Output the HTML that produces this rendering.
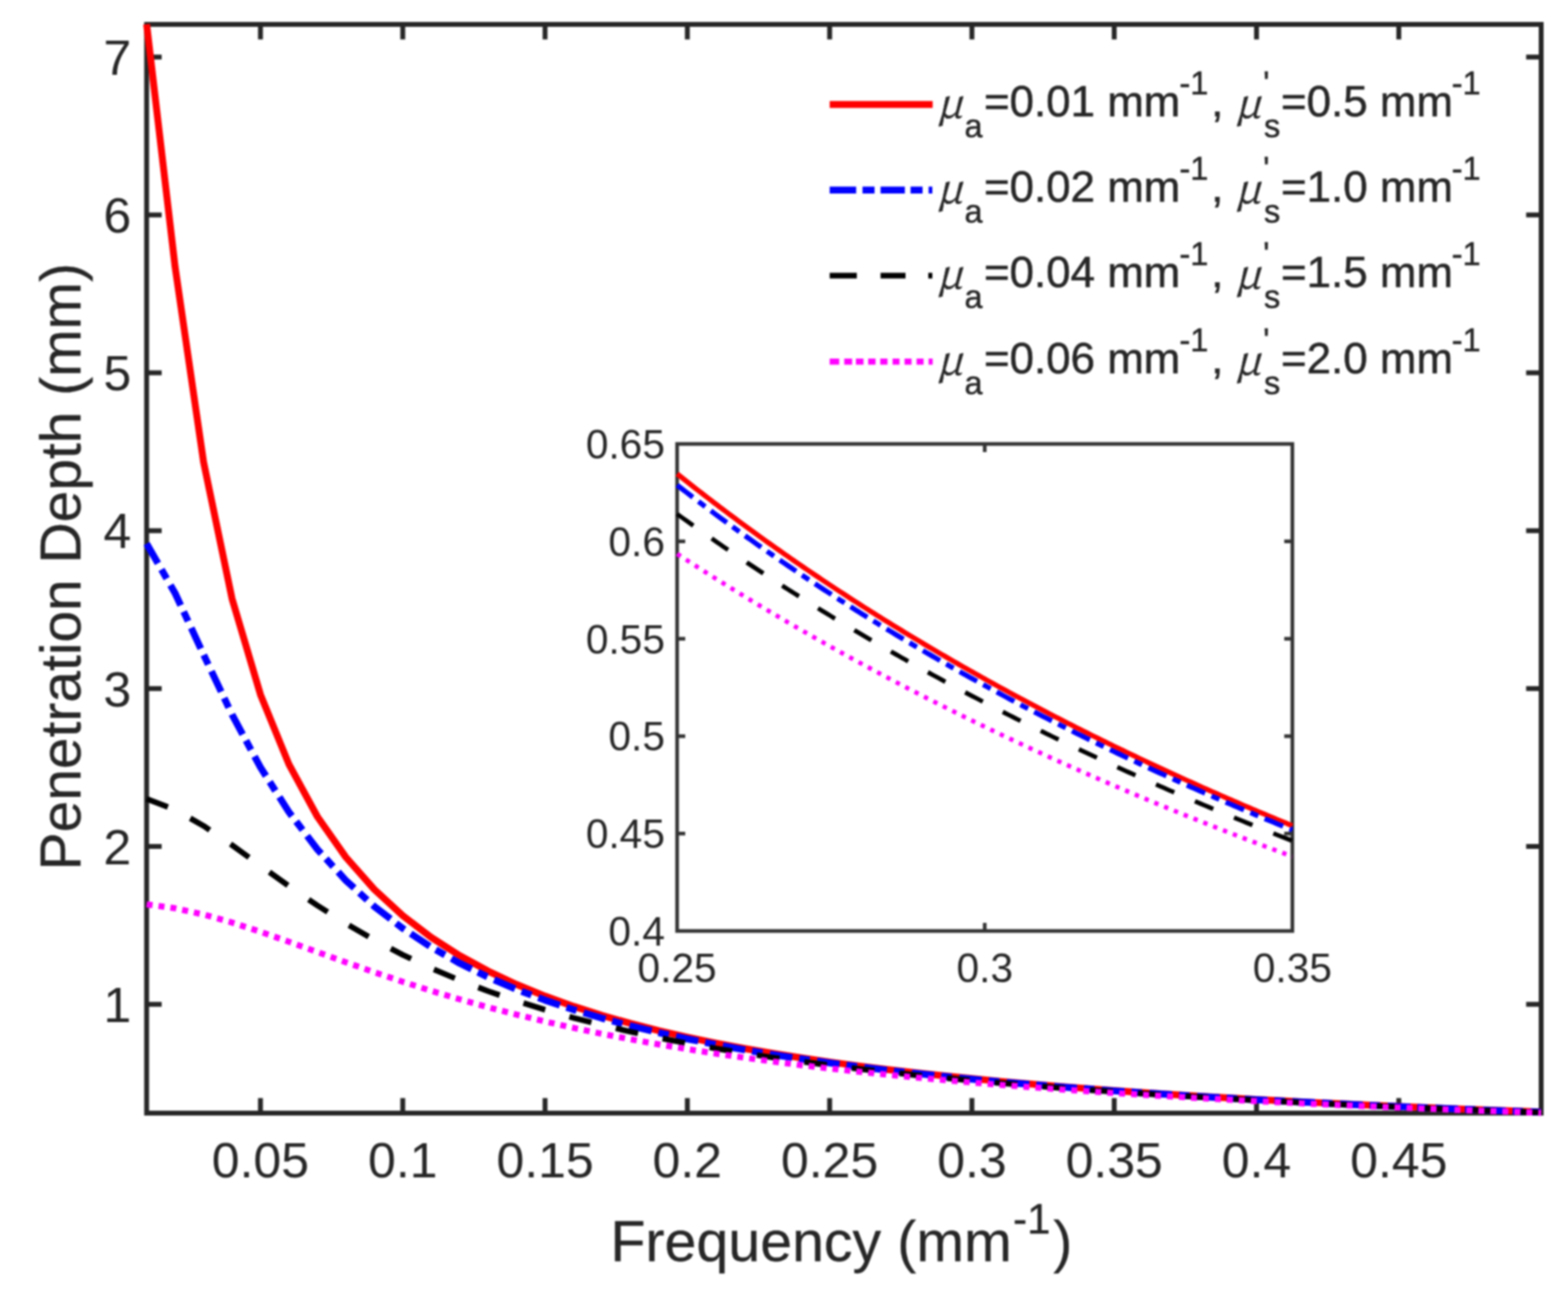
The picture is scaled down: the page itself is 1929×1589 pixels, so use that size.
<!DOCTYPE html>
<html><head><meta charset="utf-8"><title>Penetration Depth vs Frequency</title>
<style>
html,body{margin:0;padding:0;background:#fff;}
body{width:1929px;height:1589px;overflow:hidden;}
svg{display:block;filter:blur(1.1px);}
text{font-family:"Liberation Sans",Arial,sans-serif;fill:#262626;stroke:#262626;stroke-width:0.6px;}
.tk text{stroke-width:0.0px;}
.lab{stroke-width:0.3px;}
.mu{font-family:"Noto Serif CJK SC","Liberation Serif",serif;font-style:italic;}
</style></head><body>
<svg width="1929" height="1589" viewBox="0 0 1929 1589">
<rect x="0" y="0" width="1929" height="1589" fill="#fff"/>

<g stroke="#262626" stroke-width="6" fill="none" stroke-linecap="square">
<rect x="180.4" y="30.0" width="1715.60" height="1339.00"/>
<line x1="320.44" y1="1369.0" x2="320.44" y2="1350.5" stroke-linecap="butt"/>
<line x1="320.44" y1="30.0" x2="320.44" y2="48.5" stroke-linecap="butt"/>
<line x1="495.49" y1="1369.0" x2="495.49" y2="1350.5" stroke-linecap="butt"/>
<line x1="495.49" y1="30.0" x2="495.49" y2="48.5" stroke-linecap="butt"/>
<line x1="670.54" y1="1369.0" x2="670.54" y2="1350.5" stroke-linecap="butt"/>
<line x1="670.54" y1="30.0" x2="670.54" y2="48.5" stroke-linecap="butt"/>
<line x1="845.59" y1="1369.0" x2="845.59" y2="1350.5" stroke-linecap="butt"/>
<line x1="845.59" y1="30.0" x2="845.59" y2="48.5" stroke-linecap="butt"/>
<line x1="1020.64" y1="1369.0" x2="1020.64" y2="1350.5" stroke-linecap="butt"/>
<line x1="1020.64" y1="30.0" x2="1020.64" y2="48.5" stroke-linecap="butt"/>
<line x1="1195.69" y1="1369.0" x2="1195.69" y2="1350.5" stroke-linecap="butt"/>
<line x1="1195.69" y1="30.0" x2="1195.69" y2="48.5" stroke-linecap="butt"/>
<line x1="1370.74" y1="1369.0" x2="1370.74" y2="1350.5" stroke-linecap="butt"/>
<line x1="1370.74" y1="30.0" x2="1370.74" y2="48.5" stroke-linecap="butt"/>
<line x1="1545.79" y1="1369.0" x2="1545.79" y2="1350.5" stroke-linecap="butt"/>
<line x1="1545.79" y1="30.0" x2="1545.79" y2="48.5" stroke-linecap="butt"/>
<line x1="1720.84" y1="1369.0" x2="1720.84" y2="1350.5" stroke-linecap="butt"/>
<line x1="1720.84" y1="30.0" x2="1720.84" y2="48.5" stroke-linecap="butt"/>
<line x1="180.4" y1="1235.20" x2="198.9" y2="1235.20" stroke-linecap="butt"/>
<line x1="1896.0" y1="1235.20" x2="1877.5" y2="1235.20" stroke-linecap="butt"/>
<line x1="180.4" y1="1041.03" x2="198.9" y2="1041.03" stroke-linecap="butt"/>
<line x1="1896.0" y1="1041.03" x2="1877.5" y2="1041.03" stroke-linecap="butt"/>
<line x1="180.4" y1="846.86" x2="198.9" y2="846.86" stroke-linecap="butt"/>
<line x1="1896.0" y1="846.86" x2="1877.5" y2="846.86" stroke-linecap="butt"/>
<line x1="180.4" y1="652.69" x2="198.9" y2="652.69" stroke-linecap="butt"/>
<line x1="1896.0" y1="652.69" x2="1877.5" y2="652.69" stroke-linecap="butt"/>
<line x1="180.4" y1="458.52" x2="198.9" y2="458.52" stroke-linecap="butt"/>
<line x1="1896.0" y1="458.52" x2="1877.5" y2="458.52" stroke-linecap="butt"/>
<line x1="180.4" y1="264.35" x2="198.9" y2="264.35" stroke-linecap="butt"/>
<line x1="1896.0" y1="264.35" x2="1877.5" y2="264.35" stroke-linecap="butt"/>
<line x1="180.4" y1="70.18" x2="198.9" y2="70.18" stroke-linecap="butt"/>
<line x1="1896.0" y1="70.18" x2="1877.5" y2="70.18" stroke-linecap="butt"/>
</g>
<g class="tk" font-size="61.5">
<text x="320.44" y="1447.5" text-anchor="middle">0.05</text>
<text x="495.49" y="1447.5" text-anchor="middle">0.1</text>
<text x="670.54" y="1447.5" text-anchor="middle">0.15</text>
<text x="845.59" y="1447.5" text-anchor="middle">0.2</text>
<text x="1020.64" y="1447.5" text-anchor="middle">0.25</text>
<text x="1195.69" y="1447.5" text-anchor="middle">0.3</text>
<text x="1370.74" y="1447.5" text-anchor="middle">0.35</text>
<text x="1545.79" y="1447.5" text-anchor="middle">0.4</text>
<text x="1720.84" y="1447.5" text-anchor="middle">0.45</text>
<text x="161.5" y="1257.00" text-anchor="end">1</text>
<text x="161.5" y="1062.83" text-anchor="end">2</text>
<text x="161.5" y="868.66" text-anchor="end">3</text>
<text x="161.5" y="674.49" text-anchor="end">4</text>
<text x="161.5" y="480.32" text-anchor="end">5</text>
<text x="161.5" y="286.15" text-anchor="end">6</text>
<text x="161.5" y="91.98" text-anchor="end">7</text>
</g>
<text class="lab" transform="translate(98.5,697) rotate(-90)" font-size="70" text-anchor="middle">Penetration Depth (mm)</text>
<text class="lab" x="751" y="1550.5" font-size="70.5">Frequency (mm<tspan x="1246.3" y="1517.2" font-size="52">-1</tspan><tspan x="1295.8" y="1550.5">)</tspan></text>
<path d="M180.40,29.81 L215.41,328.18 L250.42,568.14 L285.43,736.20 L320.44,854.28 L355.45,939.99 L390.46,1004.38 L425.47,1054.27 L460.48,1093.93 L495.49,1126.16 L530.50,1152.83 L565.51,1175.24 L600.52,1194.33 L635.53,1210.78 L670.54,1225.10 L705.55,1237.67 L740.56,1248.79 L775.57,1258.70 L810.58,1267.59 L845.59,1275.60 L880.60,1282.85 L915.61,1289.46 L950.62,1295.50 L985.63,1301.04 L1020.64,1306.14 L1055.65,1310.85 L1090.66,1315.22 L1125.67,1319.27 L1160.68,1323.05 L1195.69,1326.58 L1230.70,1329.88 L1265.71,1332.98 L1300.72,1335.89 L1335.73,1338.63 L1370.74,1341.21 L1405.75,1343.66 L1440.76,1345.97 L1475.77,1348.15 L1510.78,1350.23 L1545.79,1352.21 L1580.80,1354.08 L1615.81,1355.87 L1650.82,1357.58 L1685.83,1359.21 L1720.84,1360.76 L1755.85,1362.25 L1790.86,1363.68 L1825.87,1365.04 L1860.88,1366.35 L1895.89,1367.61" fill="none" stroke="#ff0000" stroke-width="8.5" stroke-linejoin="round"/>
<path d="M180.40,668.64 L215.41,729.59 L250.42,805.06 L285.43,878.78 L320.44,943.79 L355.45,998.75 L390.46,1044.59 L425.47,1082.78 L460.48,1114.79 L495.49,1141.82 L530.50,1164.87 L565.51,1184.68 L600.52,1201.86 L635.53,1216.88 L670.54,1230.10 L705.55,1241.82 L740.56,1252.27 L775.57,1261.65 L810.58,1270.11 L845.59,1277.76 L880.60,1284.73 L915.61,1291.10 L950.62,1296.94 L985.63,1302.31 L1020.64,1307.26 L1055.65,1311.85 L1090.66,1316.11 L1125.67,1320.08 L1160.68,1323.78 L1195.69,1327.24 L1230.70,1330.48 L1265.71,1333.52 L1300.72,1336.38 L1335.73,1339.08 L1370.74,1341.63 L1405.75,1344.04 L1440.76,1346.32 L1475.77,1348.48 L1510.78,1350.53 L1545.79,1352.48 L1580.80,1354.34 L1615.81,1356.11 L1650.82,1357.80 L1685.83,1359.42 L1720.84,1360.96 L1755.85,1362.43 L1790.86,1363.85 L1825.87,1365.20 L1860.88,1366.51 L1895.89,1367.75" fill="none" stroke="#0000ff" stroke-width="8.5" stroke-linejoin="round" stroke-dasharray="28 8.6 13 9.1"/>
<path d="M180.40,982.44 L215.41,995.83 L250.42,1015.71 L285.43,1039.44 L320.44,1064.69 L355.45,1089.78 L390.46,1113.65 L425.47,1135.80 L460.48,1156.02 L495.49,1174.32 L530.50,1190.81 L565.51,1205.65 L600.52,1219.01 L635.53,1231.05 L670.54,1241.93 L705.55,1251.78 L740.56,1260.73 L775.57,1268.89 L810.58,1276.34 L845.59,1283.17 L880.60,1289.45 L915.61,1295.24 L950.62,1300.59 L985.63,1305.54 L1020.64,1310.14 L1055.65,1314.43 L1090.66,1318.42 L1125.67,1322.16 L1160.68,1325.65 L1195.69,1328.94 L1230.70,1332.03 L1265.71,1334.93 L1300.72,1337.67 L1335.73,1340.26 L1370.74,1342.72 L1405.75,1345.04 L1440.76,1347.24 L1475.77,1349.33 L1510.78,1351.32 L1545.79,1353.22 L1580.80,1355.02 L1615.81,1356.75 L1650.82,1358.40 L1685.83,1359.97 L1720.84,1361.48 L1755.85,1362.92 L1790.86,1364.30 L1825.87,1365.63 L1860.88,1366.91 L1895.89,1368.13" fill="none" stroke="#000000" stroke-width="7.0" stroke-linejoin="round" stroke-dasharray="28 30.9"/>
<path d="M180.40,1112.19 L215.41,1117.08 L250.42,1124.76 L285.43,1134.62 L320.44,1145.99 L355.45,1158.25 L390.46,1170.88 L425.47,1183.46 L460.48,1195.71 L495.49,1207.46 L530.50,1218.58 L565.51,1229.02 L600.52,1238.79 L635.53,1247.88 L670.54,1256.33 L705.55,1264.17 L740.56,1271.45 L775.57,1278.20 L810.58,1284.48 L845.59,1290.32 L880.60,1295.75 L915.61,1300.82 L950.62,1305.55 L985.63,1309.97 L1020.64,1314.11 L1055.65,1318.00 L1090.66,1321.64 L1125.67,1325.07 L1160.68,1328.30 L1195.69,1331.35 L1230.70,1334.22 L1265.71,1336.94 L1300.72,1339.52 L1335.73,1341.96 L1370.74,1344.28 L1405.75,1346.48 L1440.76,1348.57 L1475.77,1350.57 L1510.78,1352.47 L1545.79,1354.28 L1580.80,1356.02 L1615.81,1357.68 L1650.82,1359.26 L1685.83,1360.78 L1720.84,1362.24 L1755.85,1363.63 L1790.86,1364.97 L1825.87,1366.26 L1860.88,1367.50 L1895.89,1368.69" fill="none" stroke="#ff00ff" stroke-width="7.5" stroke-linejoin="round" stroke-dasharray="7.4 7.35"/>
<line x1="1020.7" y1="128.60" x2="1147.4" y2="128.60" stroke="#ff0000" stroke-width="8.5"/>
<text class="mu" x="1152.5" y="144.50" font-size="50">μ</text>
<text x="1186.5" y="168.50" font-size="40">a</text>
<text x="1210.5" y="142.50" font-size="54">=0.01 mm</text>
<text x="1451" y="115.50" font-size="40">-1</text>
<text x="1490" y="142.50" font-size="54">,</text>
<text class="mu" x="1519.5" y="144.50" font-size="50">μ</text>
<text x="1554" y="115.50" font-size="40">'</text>
<text x="1555" y="168.50" font-size="40">s</text>
<text x="1576" y="142.50" font-size="54">=0.5 mm</text>
<text x="1786" y="115.50" font-size="40">-1</text>
<line x1="1020.7" y1="233.80" x2="1147.4" y2="233.80" stroke="#0000ff" stroke-width="8.5" stroke-dasharray="32.6 7.8 14.8 7.4 29.9 7 14.8 7.4 4.6 50"/>
<text class="mu" x="1152.5" y="249.90" font-size="50">μ</text>
<text x="1186.5" y="273.90" font-size="40">a</text>
<text x="1210.5" y="247.90" font-size="54">=0.02 mm</text>
<text x="1451" y="220.90" font-size="40">-1</text>
<text x="1490" y="247.90" font-size="54">,</text>
<text class="mu" x="1519.5" y="249.90" font-size="50">μ</text>
<text x="1554" y="220.90" font-size="40">'</text>
<text x="1555" y="273.90" font-size="40">s</text>
<text x="1576" y="247.90" font-size="54">=1.0 mm</text>
<text x="1786" y="220.90" font-size="40">-1</text>
<line x1="1020.7" y1="339.10" x2="1147.4" y2="339.10" stroke="#000000" stroke-width="7.0" stroke-dasharray="33.4 29.2 30.7 28 5 50"/>
<text class="mu" x="1152.5" y="355.30" font-size="50">μ</text>
<text x="1186.5" y="379.30" font-size="40">a</text>
<text x="1210.5" y="353.30" font-size="54">=0.04 mm</text>
<text x="1451" y="326.30" font-size="40">-1</text>
<text x="1490" y="353.30" font-size="54">,</text>
<text class="mu" x="1519.5" y="355.30" font-size="50">μ</text>
<text x="1554" y="326.30" font-size="40">'</text>
<text x="1555" y="379.30" font-size="40">s</text>
<text x="1576" y="353.30" font-size="54">=1.5 mm</text>
<text x="1786" y="326.30" font-size="40">-1</text>
<line x1="1020.7" y1="444.80" x2="1147.4" y2="444.80" stroke="#ff00ff" stroke-width="7.5" stroke-dasharray="11.7 6.2 9.7 4.7 9.3 5.8 9 5.8 8.9 6.3 8.5 6.2 8.6 6.2 8.6 6.2 5.4 50"/>
<text class="mu" x="1152.5" y="460.70" font-size="50">μ</text>
<text x="1186.5" y="484.70" font-size="40">a</text>
<text x="1210.5" y="458.70" font-size="54">=0.06 mm</text>
<text x="1451" y="431.70" font-size="40">-1</text>
<text x="1490" y="458.70" font-size="54">,</text>
<text class="mu" x="1519.5" y="460.70" font-size="50">μ</text>
<text x="1554" y="431.70" font-size="40">'</text>
<text x="1555" y="484.70" font-size="40">s</text>
<text x="1576" y="458.70" font-size="54">=2.0 mm</text>
<text x="1786" y="431.70" font-size="40">-1</text>
<rect x="833.0" y="546.0" width="756.90" height="599.00" fill="#fff" stroke="none"/>
<g stroke="#333" stroke-width="4.5" fill="none">
<rect x="833.0" y="546.0" width="756.90" height="599.00" stroke-linecap="square"/>
<line x1="1211.45" y1="1145.0" x2="1211.45" y2="1135.0"/>
<line x1="1211.45" y1="546.0" x2="1211.45" y2="556.0"/>
<line x1="833.0" y1="1025.20" x2="843.0" y2="1025.20"/>
<line x1="1589.9" y1="1025.20" x2="1579.9" y2="1025.20"/>
<line x1="833.0" y1="905.40" x2="843.0" y2="905.40"/>
<line x1="1589.9" y1="905.40" x2="1579.9" y2="905.40"/>
<line x1="833.0" y1="785.60" x2="843.0" y2="785.60"/>
<line x1="1589.9" y1="785.60" x2="1579.9" y2="785.60"/>
<line x1="833.0" y1="665.80" x2="843.0" y2="665.80"/>
<line x1="1589.9" y1="665.80" x2="1579.9" y2="665.80"/>
</g>
<path d="M833.00,582.77 L836.78,585.78 L840.57,588.79 L844.35,591.78 L848.14,594.76 L851.92,597.73 L855.71,600.69 L859.49,603.63 L863.28,606.57 L867.06,609.49 L870.85,612.40 L874.63,615.30 L878.41,618.19 L882.20,621.07 L885.98,623.94 L889.77,626.80 L893.55,629.64 L897.34,632.47 L901.12,635.30 L904.91,638.11 L908.69,640.91 L912.47,643.70 L916.26,646.48 L920.04,649.25 L923.83,652.01 L927.61,654.76 L931.40,657.50 L935.18,660.23 L938.97,662.95 L942.75,665.66 L946.54,668.35 L950.32,671.04 L954.10,673.72 L957.89,676.39 L961.67,679.04 L965.46,681.69 L969.24,684.33 L973.03,686.96 L976.81,689.58 L980.60,692.19 L984.38,694.79 L988.16,697.38 L991.95,699.96 L995.73,702.53 L999.52,705.09 L1003.30,707.64 L1007.09,710.19 L1010.87,712.72 L1014.66,715.24 L1018.44,717.76 L1022.23,720.27 L1026.01,722.76 L1029.79,725.25 L1033.58,727.73 L1037.36,730.20 L1041.15,732.66 L1044.93,735.12 L1048.72,737.56 L1052.50,740.00 L1056.29,742.42 L1060.07,744.84 L1063.85,747.25 L1067.64,749.65 L1071.42,752.05 L1075.21,754.43 L1078.99,756.81 L1082.78,759.17 L1086.56,761.53 L1090.35,763.88 L1094.13,766.23 L1097.92,768.56 L1101.70,770.89 L1105.48,773.21 L1109.27,775.52 L1113.05,777.82 L1116.84,780.12 L1120.62,782.40 L1124.41,784.68 L1128.19,786.95 L1131.98,789.21 L1135.76,791.47 L1139.54,793.72 L1143.33,795.96 L1147.11,798.19 L1150.90,800.42 L1154.68,802.63 L1158.47,804.84 L1162.25,807.04 L1166.04,809.24 L1169.82,811.43 L1173.61,813.61 L1177.39,815.78 L1181.17,817.95 L1184.96,820.10 L1188.74,822.25 L1192.53,824.40 L1196.31,826.53 L1200.10,828.66 L1203.88,830.79 L1207.67,832.90 L1211.45,835.01 L1215.23,837.11 L1219.02,839.21 L1222.80,841.29 L1226.59,843.37 L1230.37,845.45 L1234.16,847.52 L1237.94,849.58 L1241.73,851.63 L1245.51,853.68 L1249.30,855.72 L1253.08,857.75 L1256.86,859.78 L1260.65,861.80 L1264.43,863.81 L1268.22,865.82 L1272.00,867.82 L1275.79,869.81 L1279.57,871.80 L1283.36,873.78 L1287.14,875.76 L1290.92,877.73 L1294.71,879.69 L1298.49,881.65 L1302.28,883.60 L1306.06,885.54 L1309.85,887.48 L1313.63,889.41 L1317.42,891.34 L1321.20,893.26 L1324.99,895.17 L1328.77,897.08 L1332.55,898.98 L1336.34,900.87 L1340.12,902.76 L1343.91,904.65 L1347.69,906.52 L1351.48,908.40 L1355.26,910.26 L1359.05,912.12 L1362.83,913.98 L1366.61,915.82 L1370.40,917.67 L1374.18,919.50 L1377.97,921.34 L1381.75,923.16 L1385.54,924.98 L1389.32,926.80 L1393.11,928.61 L1396.89,930.41 L1400.68,932.21 L1404.46,934.00 L1408.24,935.79 L1412.03,937.57 L1415.81,939.34 L1419.60,941.12 L1423.38,942.88 L1427.17,944.64 L1430.95,946.40 L1434.74,948.15 L1438.52,949.89 L1442.30,951.63 L1446.09,953.36 L1449.87,955.09 L1453.66,956.81 L1457.44,958.53 L1461.23,960.25 L1465.01,961.95 L1468.80,963.66 L1472.58,965.35 L1476.37,967.05 L1480.15,968.73 L1483.93,970.42 L1487.72,972.09 L1491.50,973.77 L1495.29,975.44 L1499.07,977.10 L1502.86,978.76 L1506.64,980.41 L1510.43,982.06 L1514.21,983.70 L1517.99,985.34 L1521.78,986.97 L1525.56,988.60 L1529.35,990.23 L1533.13,991.85 L1536.92,993.46 L1540.70,995.07 L1544.49,996.68 L1548.27,998.28 L1552.05,999.88 L1555.84,1001.47 L1559.62,1003.05 L1563.41,1004.64 L1567.19,1006.22 L1570.98,1007.79 L1574.76,1009.36 L1578.55,1010.92 L1582.33,1012.48 L1586.12,1014.04 L1589.90,1015.59" fill="none" stroke="#ff0000" stroke-width="6.2" stroke-linejoin="round"/>
<path d="M833.00,596.63 L836.78,599.57 L840.57,602.49 L844.35,605.40 L848.14,608.30 L851.92,611.19 L855.71,614.07 L859.49,616.94 L863.28,619.80 L867.06,622.65 L870.85,625.48 L874.63,628.31 L878.41,631.12 L882.20,633.92 L885.98,636.72 L889.77,639.50 L893.55,642.27 L897.34,645.03 L901.12,647.79 L904.91,650.53 L908.69,653.26 L912.47,655.98 L916.26,658.69 L920.04,661.39 L923.83,664.08 L927.61,666.76 L931.40,669.44 L935.18,672.10 L938.97,674.75 L942.75,677.39 L946.54,680.02 L950.32,682.65 L954.10,685.26 L957.89,687.86 L961.67,690.46 L965.46,693.04 L969.24,695.62 L973.03,698.18 L976.81,700.74 L980.60,703.29 L984.38,705.83 L988.16,708.36 L991.95,710.88 L995.73,713.39 L999.52,715.89 L1003.30,718.39 L1007.09,720.87 L1010.87,723.35 L1014.66,725.82 L1018.44,728.27 L1022.23,730.72 L1026.01,733.17 L1029.79,735.60 L1033.58,738.02 L1037.36,740.44 L1041.15,742.85 L1044.93,745.24 L1048.72,747.63 L1052.50,750.02 L1056.29,752.39 L1060.07,754.76 L1063.85,757.11 L1067.64,759.46 L1071.42,761.80 L1075.21,764.14 L1078.99,766.46 L1082.78,768.78 L1086.56,771.09 L1090.35,773.39 L1094.13,775.68 L1097.92,777.97 L1101.70,780.25 L1105.48,782.52 L1109.27,784.78 L1113.05,787.04 L1116.84,789.28 L1120.62,791.52 L1124.41,793.75 L1128.19,795.98 L1131.98,798.20 L1135.76,800.41 L1139.54,802.61 L1143.33,804.80 L1147.11,806.99 L1150.90,809.17 L1154.68,811.34 L1158.47,813.51 L1162.25,815.67 L1166.04,817.82 L1169.82,819.96 L1173.61,822.10 L1177.39,824.23 L1181.17,826.35 L1184.96,828.47 L1188.74,830.58 L1192.53,832.68 L1196.31,834.78 L1200.10,836.87 L1203.88,838.95 L1207.67,841.02 L1211.45,843.09 L1215.23,845.15 L1219.02,847.21 L1222.80,849.26 L1226.59,851.30 L1230.37,853.33 L1234.16,855.36 L1237.94,857.38 L1241.73,859.40 L1245.51,861.41 L1249.30,863.41 L1253.08,865.41 L1256.86,867.40 L1260.65,869.38 L1264.43,871.36 L1268.22,873.33 L1272.00,875.29 L1275.79,877.25 L1279.57,879.20 L1283.36,881.15 L1287.14,883.09 L1290.92,885.02 L1294.71,886.95 L1298.49,888.87 L1302.28,890.79 L1306.06,892.70 L1309.85,894.60 L1313.63,896.50 L1317.42,898.39 L1321.20,900.28 L1324.99,902.16 L1328.77,904.03 L1332.55,905.90 L1336.34,907.77 L1340.12,909.62 L1343.91,911.47 L1347.69,913.32 L1351.48,915.16 L1355.26,916.99 L1359.05,918.82 L1362.83,920.65 L1366.61,922.46 L1370.40,924.28 L1374.18,926.08 L1377.97,927.88 L1381.75,929.68 L1385.54,931.47 L1389.32,933.26 L1393.11,935.03 L1396.89,936.81 L1400.68,938.58 L1404.46,940.34 L1408.24,942.10 L1412.03,943.85 L1415.81,945.60 L1419.60,947.34 L1423.38,949.08 L1427.17,950.81 L1430.95,952.54 L1434.74,954.26 L1438.52,955.98 L1442.30,957.69 L1446.09,959.39 L1449.87,961.10 L1453.66,962.79 L1457.44,964.48 L1461.23,966.17 L1465.01,967.85 L1468.80,969.53 L1472.58,971.20 L1476.37,972.87 L1480.15,974.53 L1483.93,976.19 L1487.72,977.84 L1491.50,979.49 L1495.29,981.13 L1499.07,982.77 L1502.86,984.40 L1506.64,986.03 L1510.43,987.65 L1514.21,989.27 L1517.99,990.89 L1521.78,992.50 L1525.56,994.10 L1529.35,995.70 L1533.13,997.30 L1536.92,998.89 L1540.70,1000.48 L1544.49,1002.06 L1548.27,1003.64 L1552.05,1005.21 L1555.84,1006.78 L1559.62,1008.34 L1563.41,1009.90 L1567.19,1011.46 L1570.98,1013.01 L1574.76,1014.56 L1578.55,1016.10 L1582.33,1017.64 L1586.12,1019.17 L1589.90,1020.70" fill="none" stroke="#0000ff" stroke-width="6.2" stroke-linejoin="round" stroke-dasharray="24.5 8.55 10.5 8.55"/>
<path d="M833.00,632.16 L836.78,634.89 L840.57,637.62 L844.35,640.33 L848.14,643.03 L851.92,645.73 L855.71,648.41 L859.49,651.08 L863.28,653.75 L867.06,656.41 L870.85,659.05 L874.63,661.69 L878.41,664.32 L882.20,666.94 L885.98,669.55 L889.77,672.15 L893.55,674.74 L897.34,677.32 L901.12,679.89 L904.91,682.46 L908.69,685.01 L912.47,687.56 L916.26,690.10 L920.04,692.63 L923.83,695.15 L927.61,697.66 L931.40,700.16 L935.18,702.66 L938.97,705.14 L942.75,707.62 L946.54,710.09 L950.32,712.55 L954.10,715.00 L957.89,717.44 L961.67,719.88 L965.46,722.31 L969.24,724.72 L973.03,727.14 L976.81,729.54 L980.60,731.93 L984.38,734.32 L988.16,736.70 L991.95,739.07 L995.73,741.43 L999.52,743.78 L1003.30,746.13 L1007.09,748.47 L1010.87,750.80 L1014.66,753.12 L1018.44,755.44 L1022.23,757.75 L1026.01,760.05 L1029.79,762.34 L1033.58,764.63 L1037.36,766.90 L1041.15,769.17 L1044.93,771.44 L1048.72,773.69 L1052.50,775.94 L1056.29,778.18 L1060.07,780.41 L1063.85,782.64 L1067.64,784.86 L1071.42,787.07 L1075.21,789.27 L1078.99,791.47 L1082.78,793.66 L1086.56,795.84 L1090.35,798.02 L1094.13,800.19 L1097.92,802.35 L1101.70,804.50 L1105.48,806.65 L1109.27,808.79 L1113.05,810.92 L1116.84,813.05 L1120.62,815.17 L1124.41,817.29 L1128.19,819.39 L1131.98,821.49 L1135.76,823.59 L1139.54,825.67 L1143.33,827.75 L1147.11,829.83 L1150.90,831.89 L1154.68,833.95 L1158.47,836.01 L1162.25,838.06 L1166.04,840.10 L1169.82,842.13 L1173.61,844.16 L1177.39,846.18 L1181.17,848.20 L1184.96,850.21 L1188.74,852.21 L1192.53,854.21 L1196.31,856.20 L1200.10,858.19 L1203.88,860.16 L1207.67,862.14 L1211.45,864.10 L1215.23,866.06 L1219.02,868.02 L1222.80,869.97 L1226.59,871.91 L1230.37,873.84 L1234.16,875.78 L1237.94,877.70 L1241.73,879.62 L1245.51,881.53 L1249.30,883.44 L1253.08,885.34 L1256.86,887.23 L1260.65,889.12 L1264.43,891.01 L1268.22,892.89 L1272.00,894.76 L1275.79,896.63 L1279.57,898.49 L1283.36,900.34 L1287.14,902.19 L1290.92,904.04 L1294.71,905.88 L1298.49,907.71 L1302.28,909.54 L1306.06,911.36 L1309.85,913.18 L1313.63,914.99 L1317.42,916.80 L1321.20,918.60 L1324.99,920.40 L1328.77,922.19 L1332.55,923.97 L1336.34,925.75 L1340.12,927.53 L1343.91,929.30 L1347.69,931.06 L1351.48,932.82 L1355.26,934.57 L1359.05,936.32 L1362.83,938.07 L1366.61,939.80 L1370.40,941.54 L1374.18,943.27 L1377.97,944.99 L1381.75,946.71 L1385.54,948.42 L1389.32,950.13 L1393.11,951.83 L1396.89,953.53 L1400.68,955.23 L1404.46,956.92 L1408.24,958.60 L1412.03,960.28 L1415.81,961.95 L1419.60,963.62 L1423.38,965.29 L1427.17,966.95 L1430.95,968.60 L1434.74,970.26 L1438.52,971.90 L1442.30,973.54 L1446.09,975.18 L1449.87,976.81 L1453.66,978.44 L1457.44,980.06 L1461.23,981.68 L1465.01,983.29 L1468.80,984.90 L1472.58,986.51 L1476.37,988.11 L1480.15,989.70 L1483.93,991.30 L1487.72,992.88 L1491.50,994.46 L1495.29,996.04 L1499.07,997.62 L1502.86,999.19 L1506.64,1000.75 L1510.43,1002.31 L1514.21,1003.87 L1517.99,1005.42 L1521.78,1006.97 L1525.56,1008.51 L1529.35,1010.05 L1533.13,1011.58 L1536.92,1013.11 L1540.70,1014.64 L1544.49,1016.16 L1548.27,1017.68 L1552.05,1019.19 L1555.84,1020.70 L1559.62,1022.21 L1563.41,1023.71 L1567.19,1025.21 L1570.98,1026.70 L1574.76,1028.19 L1578.55,1029.68 L1582.33,1031.16 L1586.12,1032.64 L1589.90,1034.11" fill="none" stroke="#000000" stroke-width="5.5" stroke-linejoin="round" stroke-dasharray="24.5 27.64"/>
<path d="M833.00,681.19 L836.78,683.65 L840.57,686.11 L844.35,688.57 L848.14,691.01 L851.92,693.45 L855.71,695.88 L859.49,698.30 L863.28,700.72 L867.06,703.12 L870.85,705.52 L874.63,707.91 L878.41,710.30 L882.20,712.67 L885.98,715.04 L889.77,717.40 L893.55,719.76 L897.34,722.10 L901.12,724.44 L904.91,726.77 L908.69,729.10 L912.47,731.41 L916.26,733.72 L920.04,736.02 L923.83,738.32 L927.61,740.61 L931.40,742.89 L935.18,745.16 L938.97,747.43 L942.75,749.69 L946.54,751.94 L950.32,754.19 L954.10,756.43 L957.89,758.66 L961.67,760.88 L965.46,763.10 L969.24,765.31 L973.03,767.52 L976.81,769.71 L980.60,771.90 L984.38,774.09 L988.16,776.27 L991.95,778.44 L995.73,780.60 L999.52,782.76 L1003.30,784.91 L1007.09,787.05 L1010.87,789.19 L1014.66,791.32 L1018.44,793.45 L1022.23,795.57 L1026.01,797.68 L1029.79,799.78 L1033.58,801.88 L1037.36,803.97 L1041.15,806.06 L1044.93,808.14 L1048.72,810.22 L1052.50,812.28 L1056.29,814.35 L1060.07,816.40 L1063.85,818.45 L1067.64,820.49 L1071.42,822.53 L1075.21,824.56 L1078.99,826.59 L1082.78,828.60 L1086.56,830.62 L1090.35,832.62 L1094.13,834.63 L1097.92,836.62 L1101.70,838.61 L1105.48,840.59 L1109.27,842.57 L1113.05,844.54 L1116.84,846.51 L1120.62,848.47 L1124.41,850.42 L1128.19,852.37 L1131.98,854.31 L1135.76,856.25 L1139.54,858.18 L1143.33,860.11 L1147.11,862.03 L1150.90,863.94 L1154.68,865.85 L1158.47,867.75 L1162.25,869.65 L1166.04,871.54 L1169.82,873.43 L1173.61,875.31 L1177.39,877.19 L1181.17,879.06 L1184.96,880.93 L1188.74,882.78 L1192.53,884.64 L1196.31,886.49 L1200.10,888.33 L1203.88,890.17 L1207.67,892.00 L1211.45,893.83 L1215.23,895.66 L1219.02,897.47 L1222.80,899.29 L1226.59,901.09 L1230.37,902.89 L1234.16,904.69 L1237.94,906.48 L1241.73,908.27 L1245.51,910.05 L1249.30,911.83 L1253.08,913.60 L1256.86,915.37 L1260.65,917.13 L1264.43,918.89 L1268.22,920.64 L1272.00,922.38 L1275.79,924.13 L1279.57,925.86 L1283.36,927.60 L1287.14,929.32 L1290.92,931.05 L1294.71,932.76 L1298.49,934.48 L1302.28,936.19 L1306.06,937.89 L1309.85,939.59 L1313.63,941.28 L1317.42,942.97 L1321.20,944.66 L1324.99,946.34 L1328.77,948.01 L1332.55,949.68 L1336.34,951.35 L1340.12,953.01 L1343.91,954.67 L1347.69,956.32 L1351.48,957.97 L1355.26,959.61 L1359.05,961.25 L1362.83,962.89 L1366.61,964.52 L1370.40,966.14 L1374.18,967.76 L1377.97,969.38 L1381.75,970.99 L1385.54,972.60 L1389.32,974.20 L1393.11,975.80 L1396.89,977.40 L1400.68,978.99 L1404.46,980.58 L1408.24,982.16 L1412.03,983.74 L1415.81,985.31 L1419.60,986.88 L1423.38,988.44 L1427.17,990.01 L1430.95,991.56 L1434.74,993.11 L1438.52,994.66 L1442.30,996.21 L1446.09,997.75 L1449.87,999.28 L1453.66,1000.82 L1457.44,1002.34 L1461.23,1003.87 L1465.01,1005.39 L1468.80,1006.90 L1472.58,1008.42 L1476.37,1009.92 L1480.15,1011.43 L1483.93,1012.93 L1487.72,1014.42 L1491.50,1015.92 L1495.29,1017.41 L1499.07,1018.89 L1502.86,1020.37 L1506.64,1021.85 L1510.43,1023.32 L1514.21,1024.79 L1517.99,1026.25 L1521.78,1027.71 L1525.56,1029.17 L1529.35,1030.63 L1533.13,1032.08 L1536.92,1033.52 L1540.70,1034.96 L1544.49,1036.40 L1548.27,1037.84 L1552.05,1039.27 L1555.84,1040.70 L1559.62,1042.12 L1563.41,1043.54 L1567.19,1044.96 L1570.98,1046.37 L1574.76,1047.78 L1578.55,1049.19 L1582.33,1050.59 L1586.12,1051.99 L1589.90,1053.38" fill="none" stroke="#ff00ff" stroke-width="5.5" stroke-linejoin="round" stroke-dasharray="5.4 7.6"/>
<g class="tk" font-size="50">
<text x="833.00" y="1208" text-anchor="middle">0.25</text>
<text x="1211.45" y="1208" text-anchor="middle">0.3</text>
<text x="1589.90" y="1208" text-anchor="middle">0.35</text>
<text x="818" y="1163.00" text-anchor="end">0.4</text>
<text x="818" y="1043.20" text-anchor="end">0.45</text>
<text x="818" y="923.40" text-anchor="end">0.5</text>
<text x="818" y="803.60" text-anchor="end">0.55</text>
<text x="818" y="683.80" text-anchor="end">0.6</text>
<text x="818" y="564.00" text-anchor="end">0.65</text>
</g>
</svg></body></html>
